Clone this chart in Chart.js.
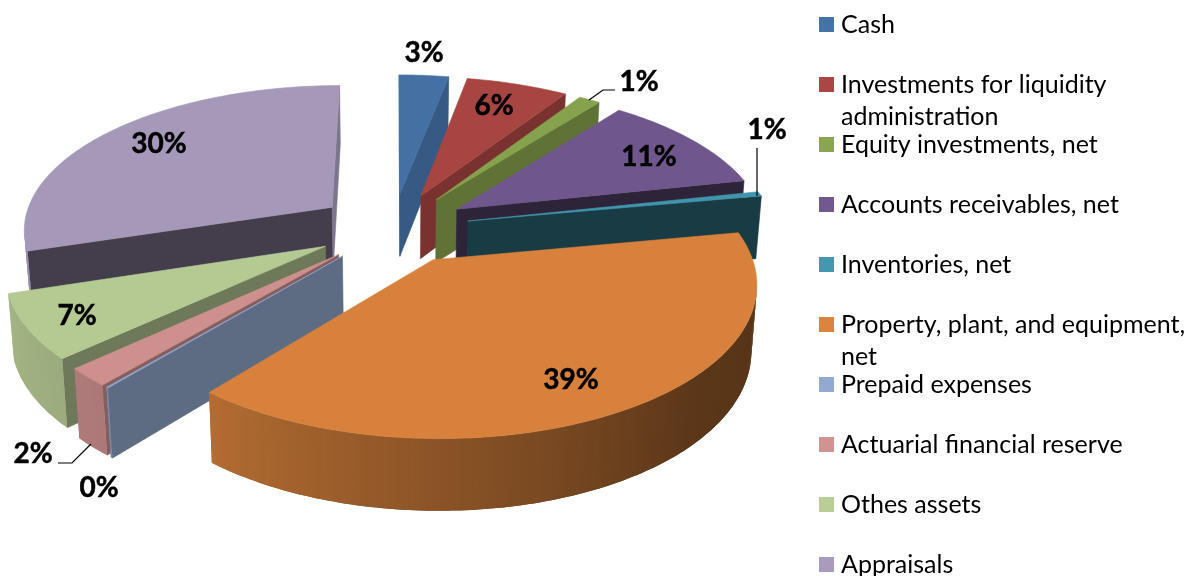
<!DOCTYPE html>
<html><head><meta charset="utf-8">
<style>html,body{margin:0;padding:0;background:#fff}#w{position:relative;width:1190px;height:576px}</style>
<script src="https://cdn.jsdelivr.net/npm/chart.js@4/dist/chart.umd.min.js"></script>
</head><body><div id="w"><canvas id="c" width="1190" height="576"></canvas></div>
<script>
const categories = ["Cash","Investments for liquidity administration","Equity investments, net","Accounts receivables, net","Inventories, net","Property, plant, and equipment, net","Prepaid expenses","Actuarial financial reserve","Othes assets","Appraisals"];
const shares = [3.0,6.2,1.3,11.1,0.5,38.9,0.1,2.0,7.0,29.9];
const colors = ["#4572A7","#AA4643","#89A54E","#71588F","#4198AF","#DB843D","#93A9CF","#D19392","#B9CD96","#A99BBD"];

const LABEL_FONT = 'bold 28px Lato, "Liberation Sans", sans-serif';
const LEGEND_FONT = '25px Lato, "Open Sans", sans-serif';
// label anchors, page pixels (centre of each percentage text)
const labelAt = [[424,53],[494,106],[639,82],[649,157],[767,130],[571,380],[99,488],[33,454],[77,316],[159,144]];
const leaders = {2:[[589,100],[603,90],[615,90]],4:[[757,196],[757,148]],7:[[91,444],[72,463],[58,463]]};

const K=1.528, KY=0.465, P=0.00045;
function shade(hex,f){const n=parseInt(hex.slice(1),16);return `rgb(${Math.round((n>>16)*f)},${Math.round(((n>>8)&255)*f)},${Math.round((n&255)*f)})`;}
function project(cx,cy,u,v,z){const w=1/(1-P*v);const D=64+(w-1)*40;return [cx+u*w*(1-z*0.015),cy+KY*v*w+z*D];}
function poly(ctx,pts,col,edge){ctx.fillStyle=col;ctx.beginPath();pts.forEach((p,i)=>i?ctx.lineTo(p[0],p[1]):ctx.moveTo(p[0],p[1]));ctx.closePath();ctx.fill();if(edge){ctx.strokeStyle=col;ctx.lineWidth=0.6;ctx.stroke();}}

const pie3d={id:'pie3d',
 beforeDatasetsDraw(chart){
  const ctx=chart.ctx, arcs=chart.getDatasetMeta(0).data;
  const items=arcs.map((el,i)=>{const mid=(el.startAngle+el.endAngle)/2;return{el,i,mid};}).sort((a,b)=>Math.sin(a.mid)-Math.sin(b.mid));
  ctx.save();
  for(const {el,i,mid} of items){
   const R=el.outerRadius*K, d=el.options.offset*K, ox=d*Math.cos(mid), oy=d*Math.sin(mid);
   const pt=(a,r,z)=>project(el.x,el.y,ox+r*Math.cos(a),oy+r*Math.sin(a),z);
   const s=el.startAngle,e=el.endAngle,n=Math.max(2,Math.ceil((e-s)*180/Math.PI));
   const ang=[];for(let k=0;k<=n;k++)ang.push(s+(e-s)*k/n);
   const A=pt(0,0,0),Ab=pt(0,0,1),Q=pt(mid,R,0);
   for(const a of [s,e]){
     const Pn=pt(a,R,0),Pb=pt(a,R,1);
     const c1=(Pn[0]-A[0])*(Q[1]-A[1])-(Pn[1]-A[1])*(Q[0]-A[0]);
     const c2=(Pn[0]-A[0]);
     if(c1*c2<0){poly(ctx,[A,Pn,Pb,Ab],shade(colors[i],0.3+0.5*Math.abs(Math.sin(a))-(Math.cos(a)<0?0.05:0)),true);}
   }
   for(let k=0;k<n;k++){
     const a=pt(ang[k],R,0),b=pt(ang[k+1],R,0);
     if(b[0]<a[0]){
       const th=((ang[k]+ang[k+1])/2+Math.PI/2)*180/Math.PI;
       const f=th<=135?0.38+(th-80)*0.04/55:(th<=220?0.42+(th-135)*0.40/85:0.82+(th-220)*0.002);
       const j=Math.min(k+2,n);
       poly(ctx,[a,b,pt(ang[j],R,0),pt(ang[j],R,1),pt(ang[k+1],R,1),pt(ang[k],R,1)],shade(colors[i],f));
     }
   }
   poly(ctx,[A,...ang.map(a=>pt(a,R,0))],shade(colors[i],0.98),true);
  }
  ctx.restore();
  return false;
 },
 afterDraw(chart){
  const ctx=chart.ctx, vals=chart.data.datasets[0].data;
  ctx.save();
  ctx.strokeStyle='#000';ctx.lineWidth=1.2;
  Object.values(leaders).forEach(l=>{ctx.beginPath();l.forEach((p,i)=>i?ctx.lineTo(p[0],p[1]):ctx.moveTo(p[0],p[1]));ctx.stroke();});
  ctx.fillStyle='#000';ctx.font=LABEL_FONT;ctx.textAlign='center';ctx.textBaseline='middle';ctx.lineWidth=0.5;
  vals.forEach((v,i)=>{const t=Math.round(v)+'%';ctx.fillText(t,labelAt[i][0],labelAt[i][1]);ctx.strokeText(t,labelAt[i][0],labelAt[i][1]);});
  ctx.textAlign='left';ctx.textBaseline='alphabetic';ctx.font=LEGEND_FONT;
  chart.data.labels.forEach((t,i)=>{
    const y=32+i*60;
    ctx.fillStyle=colors[i];ctx.fillRect(819,y-15,15,15);
    ctx.fillStyle='#000';
    const lines=[];let cur='';
    t.split(' ').forEach(w=>{const nx=cur?cur+' '+w:w;if(ctx.measureText(nx).width>349&&cur){lines.push(cur);cur=w;}else cur=nx;});
    lines.push(cur);
    lines.forEach((l,j)=>ctx.fillText(l,841,y+1+j*32));
  });
  ctx.restore();
 }
};

new Chart(document.getElementById('c'),{
 type:'pie',
 data:{labels:categories,datasets:[{data:shares,backgroundColor:colors,borderWidth:0,offset:50.3}]},
 options:{responsive:false,animation:false,layout:{padding:{right:404,bottom:120}},
  plugins:{legend:{display:false},tooltip:{enabled:false},title:{display:false}}},
 plugins:[pie3d]
});
</script></body></html>
